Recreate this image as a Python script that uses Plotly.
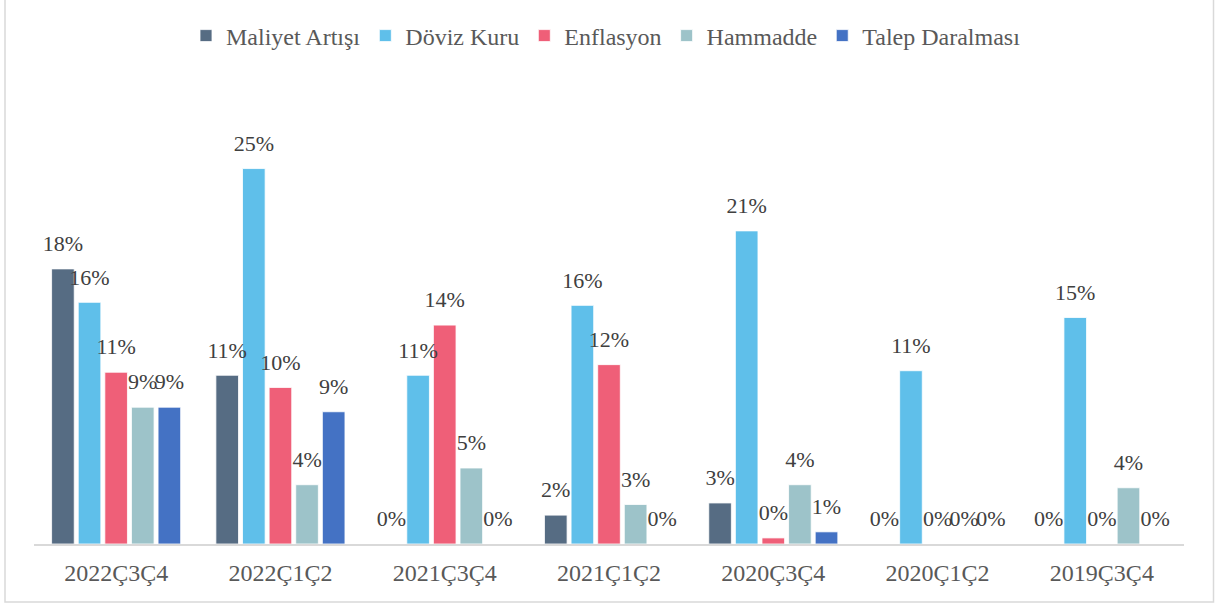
import plotly.graph_objects as go

categories = ['2022Ç3Ç4', '2022Ç1Ç2', '2021Ç3Ç4', '2021Ç1Ç2', '2020Ç3Ç4', '2020Ç1Ç2', '2019Ç3Ç4']
series_names = ['Maliyet Artışı', 'Döviz Kuru', 'Enflasyon', 'Hammadde', 'Talep Daralması']
maliyet = [0.181, 0.111, 0.0, 0.019, 0.027, 0.0, 0.0]
doviz = [0.159, 0.247, 0.111, 0.157, 0.206, 0.114, 0.149]
enflasyon = [0.113, 0.103, 0.144, 0.118, 0.004, 0.0, 0.0]
hammadde = [0.090, 0.039, 0.050, 0.026, 0.039, 0.0, 0.037]
talep = [0.090, 0.087, 0.0, 0.0, 0.008, 0.0, 0.0]
colors = ['#566C83', '#5FBFEA', '#EF5F78', '#9DC3C9', '#4472C4']

series_values = [maliyet, doviz, enflasyon, hammadde, talep]

W, H = 1215, 604
L, R, T, B = 34, 31, 90, 60
pw, ph = W - L - R, H - T - B
FONT = 'Liberation Serif'

fig = go.Figure()
for name, vals, col in zip(series_names, series_values, colors):
    fig.add_trace(go.Bar(
        x=categories, y=vals, name=name,
        marker=dict(color=col, line=dict(color='rgba(255,255,255,0.8)', width=1)),
        offsetgroup=name,
    ))
for name, vals, col in zip(series_names, series_values, colors):
    fig.add_trace(go.Scatter(
        x=categories, y=vals, mode='markers+text', showlegend=False,
        text=[f'{round(v * 100):.0f}%' for v in vals],
        textposition='top center',
        textfont=dict(family=FONT, size=22, color='#404040'),
        marker=dict(size=18, opacity=0),
        offsetgroup=name, cliponaxis=False, hoverinfo='skip',
    ))

fig.update_layout(
    width=W, height=H,
    margin=dict(l=L, r=R, t=T, b=B),
    paper_bgcolor='white', plot_bgcolor='white',
    barmode='group', bargap=0.19, bargroupgap=0.15,
    scattermode='group', scattergap=0.19,
    font=dict(family=FONT, color='#595959'),
    legend=dict(orientation='h', x=(606 - L) / pw, xanchor='center',
                y=(544 - 36) / ph, yanchor='middle',
                font=dict(family=FONT, size=24, color='#595959'),
                traceorder='normal'),
    xaxis=dict(showline=True, linecolor='#D9D9D9', linewidth=1.5, ticks='',
               showgrid=False, tickfont=dict(family=FONT, size=24, color='#595959'),
               ticklabelstandoff=6),
    yaxis=dict(visible=False, range=[0, ph / 15.2 / 100], showgrid=False),
    shapes=[dict(type='rect', xref='paper', yref='paper',
                 x0=(5 - L) / pw, x1=(1213.5 - L) / pw,
                 y0=(544 - 602) / ph, y1=(544 + 1) / ph,
                 line=dict(color='#D9D9D9', width=1.5), layer='below')],
)

fig.write_html("out.html", config={'displayModeBar': False},
               post_script="document.body.style.margin='0px';")
